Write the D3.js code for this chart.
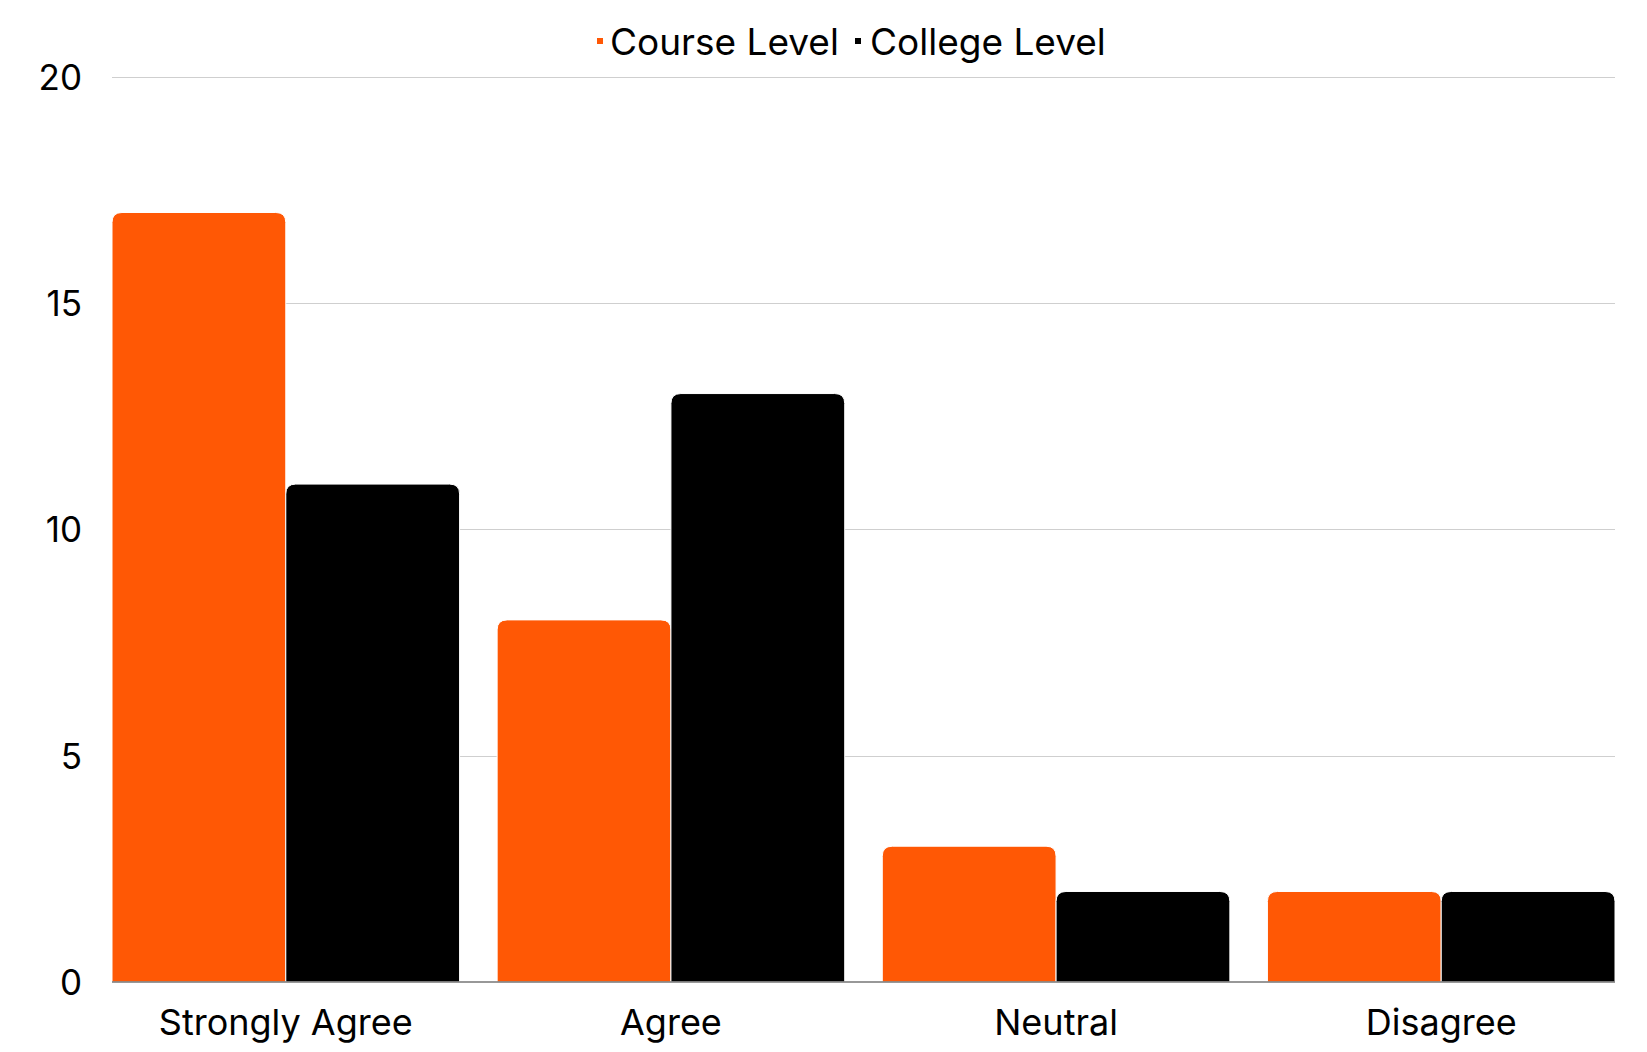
<!DOCTYPE html>
<html><head><meta charset="utf-8">
<script src="https://cdn.jsdelivr.net/npm/d3@7"></script>
<style>body{margin:0;background:#fff}svg{display:block}text{font-family:Inter,"Noto Sans",sans-serif;fill:#000}</style>
</head><body>
<script>
const categories = ["Strongly Agree","Agree","Neutral","Disagree"];
const seriesNames = ["Course Level","College Level"];
const courseValues = [17,8,3,2];
const collegeValues = [11,13,2,2];
const yTicks = [0,5,10,15,20];
const colors = ["#FF5805","#000000"];

const W=1647,H=1052;
const m={l:112,r:32,t:76.7,b:70};
const svg=d3.select("body").append("svg").attr("width",W).attr("height",H);
const x=d3.scaleBand().domain(categories).range([m.l,W-m.r]).paddingInner(0.0975).paddingOuter(0);
const xs=d3.scaleBand().domain(seriesNames).range([0,x.bandwidth()]);
const y=d3.scaleLinear().domain([0,20]).range([H-m.b,m.t]);

// gridlines
svg.append("g").selectAll("line").data(yTicks.filter(d=>d>0)).join("line")
 .attr("x1",m.l).attr("x2",W-m.r).attr("y1",d=>Math.round(y(d))+0.5).attr("y2",d=>Math.round(y(d))+0.5)
 .attr("stroke","#cfcfcf").attr("stroke-width",1);

const data=categories.map((c,i)=>({c,vals:[courseValues[i],collegeValues[i]]}));
const r=10;
function topRounded(x0,y0,w,h){
  const rr=Math.min(r,h,w/2);
  return `M${x0},${y0+h}V${y0+rr}Q${x0},${y0} ${x0+rr},${y0}H${x0+w-rr}Q${x0+w},${y0} ${x0+w},${y0+rr}V${y0+h}Z`;
}
svg.append("g").selectAll("g").data(data).join("g")
 .attr("transform",d=>`translate(${x(d.c)},0)`)
 .selectAll("path").data(d=>d.vals.map((v,j)=>({v,j}))).join("path")
 .attr("d",d=>topRounded(xs(seriesNames[d.j]),y(d.v),xs.bandwidth(),y(0)-y(d.v)))
 .attr("fill",d=>colors[d.j]).attr("stroke","#fff").attr("stroke-width",1);

// baseline
svg.append("line").attr("x1",m.l).attr("x2",W-m.r).attr("y1",y(0)).attr("y2",y(0)).attr("stroke","#767676").attr("stroke-width",1.5);

// y axis
const ya=svg.append("g").attr("transform",`translate(${m.l},0)`).call(d3.axisLeft(y).tickValues(yTicks).tickSize(0).tickPadding(30));
ya.select(".domain").remove();
ya.selectAll("text").style("font-size","35px").style("font-family","Inter,sans-serif").attr("fill","#000").attr("dy","0.36em");

// x axis
const xa=svg.append("g").attr("transform",`translate(0,${y(0)})`).call(d3.axisBottom(x).tickSize(0));
xa.select(".domain").remove();
xa.selectAll("text").style("font-size","36px").style("font-family","Inter,sans-serif").attr("fill","#000").attr("y",53).attr("dy",null);

// legend
const leg=svg.append("g");
const legItems=[{n:seriesNames[0],c:colors[0],mx:597,tx:610},{n:seriesNames[1],c:colors[1],mx:855,tx:870}];
legItems.forEach(d=>{
  leg.append("rect").attr("x",d.mx).attr("y",38).attr("width",6).attr("height",6).attr("fill",d.c);
  leg.append("text").attr("x",d.tx).attr("y",54.5).style("font-size","37px").text(d.n);
});
</script>
</body></html>
